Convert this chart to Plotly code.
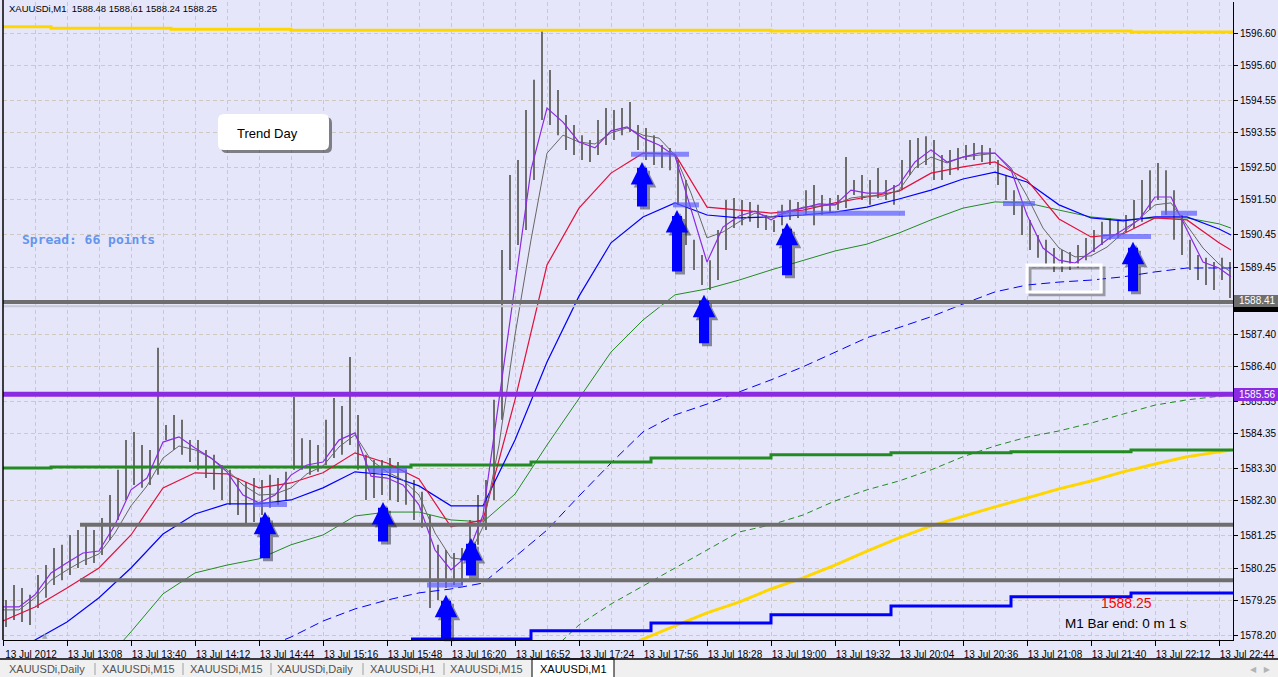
import pandas as pd
import plotly.graph_objects as go

# ---------------- data ----------------
DAY = "2012-07-13"
bar_start = "12:36"          # first M1 bar, bars grouped by 4 minutes
bar_minutes = 4
bar_high = [1579.27, 1579.73, 1579.64, 1579.43, 1580.04, 1580.34, 1580.86, 1580.96, 1581.26, 1581.41,
            1581.57, 1581.41, 1581.78, 1582.48, 1583.25, 1584.16, 1584.41, 1584.01, 1583.86, 1586.98,
            1584.62, 1584.93, 1584.78, 1584.16, 1584.16, 1583.86, 1583.71, 1583.40, 1583.25, 1583.00,
            1582.88, 1583.00, 1582.94, 1583.10, 1583.00, 1583.19, 1585.48, 1584.22, 1584.16, 1584.01,
            1584.78, 1585.45, 1585.20, 1586.70, 1584.93, 1583.71, 1583.55, 1583.55, 1583.61, 1583.49,
            1583.25, 1582.94, 1582.58, 1581.87, 1580.96, 1580.80, 1580.71, 1580.86, 1581.72, 1582.48,
            1582.94, 1585.39, 1589.97, 1592.26, 1592.72, 1594.25, 1595.17, 1596.69, 1595.47, 1594.86,
            1594.10, 1593.79, 1593.48, 1593.33, 1593.94, 1594.31, 1594.25, 1594.31, 1594.49, 1593.79,
            1593.70, 1593.48, 1593.18, 1593.09, 1592.72, 1592.11, 1590.28, 1589.82, 1589.66, 1590.58,
            1591.50, 1591.56, 1591.50, 1591.44, 1591.35, 1591.04, 1590.89, 1591.35, 1591.50, 1591.44,
            1591.80, 1591.96, 1591.65, 1591.56, 1591.65, 1592.81, 1592.11, 1592.26, 1592.11, 1592.48,
            1592.11, 1591.96, 1592.72, 1593.33, 1593.39, 1593.45, 1593.33, 1592.87, 1593.03, 1593.09,
            1593.18, 1593.24, 1593.18, 1593.09, 1592.72, 1592.26, 1591.80, 1591.35, 1590.89, 1590.43,
            1590.28, 1590.03, 1589.97, 1589.91, 1590.12, 1590.34, 1590.58, 1590.83, 1590.95, 1590.89,
            1591.04, 1591.50, 1592.11, 1592.41, 1592.63, 1592.41, 1591.80, 1591.04, 1590.28, 1589.82,
            1589.73, 1589.60, 1589.73, 1589.60]
bar_low = [1578.45, 1578.66, 1578.60, 1578.51, 1579.03, 1579.34, 1579.73, 1579.88, 1580.04, 1580.25,
           1580.34, 1580.40, 1580.65, 1581.11, 1581.72, 1582.33, 1582.79, 1582.70, 1582.79, 1583.10,
           1584.16, 1583.86, 1583.71, 1583.49, 1583.25, 1583.00, 1582.64, 1582.33, 1582.18, 1581.87,
           1581.57, 1581.66, 1581.87, 1582.09, 1582.18, 1582.33, 1583.25, 1583.25, 1583.10, 1583.19,
           1583.40, 1583.61, 1583.71, 1584.01, 1583.25, 1582.33, 1582.39, 1582.48, 1582.33, 1582.27,
           1582.18, 1581.72, 1581.48, 1579.03, 1579.27, 1579.64, 1579.73, 1579.73, 1580.19, 1580.96,
           1581.41, 1582.33, 1584.78, 1589.36, 1590.12, 1590.58, 1592.11, 1593.94, 1593.79, 1593.48,
           1593.03, 1592.87, 1592.72, 1592.66, 1592.87, 1593.18, 1593.33, 1593.48, 1593.58, 1593.03,
           1592.72, 1592.57, 1592.48, 1592.41, 1591.35, 1590.12, 1589.36, 1588.90, 1588.75, 1589.05,
           1589.97, 1590.64, 1590.73, 1590.83, 1590.64, 1590.58, 1590.52, 1590.73, 1590.89, 1590.95,
           1591.04, 1590.73, 1591.04, 1591.13, 1591.19, 1591.25, 1591.65, 1591.50, 1591.35, 1591.56,
           1591.50, 1591.35, 1591.80, 1592.26, 1592.48, 1592.57, 1592.11, 1592.11, 1592.26, 1592.41,
           1592.72, 1592.72, 1592.66, 1592.57, 1591.96, 1591.50, 1591.04, 1590.43, 1589.97, 1589.73,
           1589.51, 1589.30, 1589.30, 1589.36, 1589.42, 1589.66, 1589.91, 1590.12, 1590.28, 1590.34,
           1590.52, 1590.64, 1590.83, 1591.19, 1591.50, 1591.04, 1590.28, 1589.82, 1589.36, 1589.05,
           1588.90, 1588.75, 1589.05, 1588.50]

last_time = "22:50"
# fast averages, sampled every 8 minutes from 12:36 (last point at 22:50)
ma_purple = [1579.06, 1579.06, 1579.43, 1580.10, 1580.41, 1580.71, 1580.77, 1581.57, 1582.64, 1583.00,
             1584.10, 1584.26, 1583.92, 1583.61, 1583.19, 1582.48, 1582.24, 1582.48, 1583.09, 1583.40,
             1583.49, 1584.16, 1584.38, 1583.06, 1583.00, 1582.79, 1582.18, 1580.80, 1580.19, 1580.62,
             1581.87, 1585.39, 1589.05, 1592.42, 1594.31, 1593.88, 1593.27, 1593.09, 1593.61, 1593.73,
             1593.39, 1593.18, 1592.84, 1591.19, 1589.60, 1590.67, 1591.01, 1591.16, 1590.89, 1591.16,
             1591.25, 1591.38, 1591.35, 1591.80, 1591.71, 1591.71, 1591.96, 1592.66, 1593.03, 1592.66,
             1592.81, 1592.93, 1592.93, 1592.42, 1591.04, 1590.03, 1589.66, 1589.57, 1589.91, 1590.28,
             1590.58, 1590.89, 1591.59, 1591.59, 1590.58, 1589.60, 1589.42, 1589.15]
ma_grey = [1578.97, 1578.97, 1579.34, 1579.88, 1580.19, 1580.47, 1580.68, 1581.32, 1582.15, 1582.76,
           1583.61, 1583.98, 1583.86, 1583.61, 1583.25, 1582.79, 1582.48, 1582.51, 1582.70, 1583.13,
           1583.37, 1583.95, 1584.32, 1583.55, 1583.19, 1582.94, 1582.48, 1581.32, 1580.56, 1580.50,
           1581.51, 1584.01, 1587.37, 1590.28, 1592.93, 1593.48, 1593.27, 1593.21, 1593.55, 1593.70,
           1593.48, 1593.39, 1592.87, 1591.71, 1590.34, 1590.52, 1590.83, 1591.10, 1590.98, 1591.10,
           1591.28, 1591.32, 1591.35, 1591.56, 1591.62, 1591.62, 1591.80, 1592.48, 1592.81, 1592.63,
           1592.81, 1592.87, 1592.93, 1592.48, 1591.62, 1590.64, 1590.03, 1589.76, 1589.79, 1590.06,
           1590.49, 1590.89, 1591.35, 1591.41, 1590.73, 1590.03, 1589.54, 1589.30]
# slower averages, sampled every 16 minutes from 12:36 (last point at 22:50)
ma_red = [1578.63, 1579.06, 1579.64, 1580.25, 1581.26, 1582.70, 1583.16, 1583.13, 1582.70, 1582.85,
          1583.16, 1583.77, 1583.46, 1582.97, 1581.51, 1581.72, 1585.39, 1589.51, 1591.25, 1592.32,
          1592.93, 1592.90, 1591.28, 1591.19, 1591.10, 1591.19, 1591.41, 1591.59, 1591.77, 1592.32,
          1592.51, 1592.66, 1592.11, 1590.92, 1590.37, 1590.46, 1590.95, 1590.89, 1590.19, 1589.97]
ma_blue = [1577.59, 1578.05, 1578.60, 1579.34, 1580.25, 1581.29, 1581.90, 1582.21, 1582.21, 1582.33,
           1582.70, 1583.19, 1583.10, 1582.76, 1582.15, 1582.15, 1584.16, 1586.55, 1588.56, 1590.19,
           1590.98, 1591.41, 1591.04, 1590.95, 1590.98, 1591.04, 1591.13, 1591.28, 1591.53, 1591.80,
           1592.14, 1592.35, 1592.05, 1591.35, 1590.95, 1590.86, 1590.98, 1590.98, 1590.61, 1590.43]
ma_green = [None, None, None, 1577.20, 1578.30, 1579.46, 1580.10, 1580.34, 1580.53, 1580.96,
            1581.26, 1581.84, 1581.96, 1581.96, 1581.72, 1581.66, 1582.51, 1584.01, 1585.45, 1586.85,
            1587.83, 1588.60, 1588.78, 1589.05, 1589.36, 1589.66, 1589.94, 1590.15, 1590.49, 1590.89,
            1591.25, 1591.44, 1591.41, 1591.19, 1590.98, 1590.89, 1590.95, 1590.95, 1590.77, 1590.64]
ma_blue_dash = [None, None, None, None, None, None, None, None, 1577.75, 1578.14,
                1578.63, 1579.00, 1579.27, 1579.49, 1579.61, 1579.79, 1580.59, 1581.41, 1582.45, 1583.46,
                1584.41, 1584.93, 1585.26, 1585.62, 1586.00, 1586.40, 1586.85, 1587.29, 1587.60, 1587.93,
                1588.32, 1588.69, 1588.90, 1588.99, 1589.05, 1589.15, 1589.30, 1589.42, 1589.42, 1589.42]
ma_green_dash = [None] * 17 + [1577.59, 1578.51, 1579.15, 1579.71, 1580.25, 1580.80, 1581.35, 1581.57,
                               1581.87, 1582.30, 1582.64, 1582.91, 1583.25, 1583.65, 1583.98, 1584.25,
                               1584.44, 1584.68, 1584.96, 1585.23, 1585.39, 1585.51, 1585.54]
ma_yellow = [None] * 19 + [1577.59, 1578.08, 1578.48, 1578.88, 1579.21, 1579.61, 1579.95, 1580.34,
                           1580.77, 1581.17, 1581.54, 1581.84, 1582.12, 1582.39, 1582.67, 1582.91,
                           1583.19, 1583.43, 1583.65, 1583.80, 1583.86]

# hourly step lines
yellow_top_times = ["12:36", "13:00", "14:00", "15:00", "19:00", "22:00", "22:51"]
yellow_top_vals = [1596.79, 1596.75, 1596.72, 1596.69, 1596.66, 1596.63, 1596.63]
green_step_times = ["12:36", "13:00", "16:00", "17:00", "18:00", "19:00", "20:00", "21:00", "22:00", "22:51"]
green_step_vals = [1583.31, 1583.34, 1583.40, 1583.49, 1583.61, 1583.71, 1583.77, 1583.80, 1583.86, 1583.86]
blue_step_times = ["16:00", "17:00", "18:00", "19:00", "20:00", "21:00", "22:00", "22:51"]
blue_step_vals = [1578.08, 1578.33, 1578.57, 1578.82, 1579.09, 1579.37, 1579.49, 1579.49]

# horizontal levels
level_grey_full = 1588.38
level_bid = 1588.25
level_purple = 1585.56
levels_grey_part = [1581.57, 1579.88]
levels_grey_part_start = "13:14:30"

# highlighted zones (price, from, to)
zone_price = [1582.19, 1583.23, 1579.73, 1592.90, 1591.35, 1591.09, 1591.39, 1590.38, 1591.09]
zone_from = ["14:41", "15:39", "16:08", "17:50", "18:11", "19:03", "20:56", "21:45", "22:15"]
zone_to = ["14:58", "15:58", "16:26", "18:19", "18:24", "20:07", "21:12", "22:10", "22:33"]

# up arrows (tip time, tip price)
arrow_time = ["14:47", "15:46", "16:17:30", "16:30", "17:55:30", "18:13", "18:26:30", "19:08", "22:01"]
arrow_price = [1581.97, 1582.27, 1579.43, 1581.17, 1592.66, 1591.19, 1588.60, 1590.80, 1590.22]
arrow_len_px = [48, 41, 45, 39, 46, 63, 50, 54, 51]

# white frame (time range, price range)
frame_times = ["21:08", "21:45"]
frame_prices = [1588.69, 1589.51]

x_tick_times = ["12:36", "13:08", "13:40", "14:12", "14:44", "15:16", "15:48", "16:20", "16:52", "17:24",
                "17:56", "18:28", "19:00", "19:32", "20:04", "20:36", "21:08", "21:40", "22:12", "22:44"]
x_tick_labels = ["13 Jul 2012"] + ["13 Jul " + t for t in x_tick_times[1:]]
x_grid_times = ["12:52", "13:24", "13:56", "14:28", "15:00", "15:32", "16:04", "16:36", "17:08", "17:40",
                "18:12", "18:44", "19:16", "19:48", "20:20", "20:52", "21:24", "21:56", "22:28"]
y_tick_labels = ["1578.20", "1579.25", "1580.25", "1581.25", "1582.30", "1583.30", "1584.35", "1585.35",
                 "1586.40", "1587.40", "1588.40", "1589.45", "1590.45", "1591.50", "1592.50", "1593.55",
                 "1594.55", "1595.60", "1596.60"]
tabs = ["XAUUSDi,Daily", "XAUUSDi,M15", "XAUUSDi,M15", "XAUUSDi,Daily", "XAUUSDi,H1", "XAUUSDi,M15", "XAUUSDi,M1"]
quote_text = "XAUUSDi,M1  1588.48 1588.61 1588.24 1588.25"

# ---------------- helpers ----------------
def T(s):
    return pd.Timestamp(f"{DAY} {s}")

def iso(t):
    return t.strftime("%Y-%m-%d %H:%M:%S")

t0 = T(bar_start)

def grid_times(n, step):
    return [iso(t0 + pd.Timedelta(minutes=step * k)) for k in range(n - 1)] + [iso(T(last_time))]

W, H = 1278, 677
L, R, TOP, BOT = 3, 1233, 2, 640

def px(x):
    return (x - L) / (R - L)

def py(y):
    return (BOT - y) / (BOT - TOP)

def rrect(x0, y0, x1, y1, r):
    X0, X1, Y0, Y1 = px(x0), px(x1), py(y0), py(y1)
    rx, ry = r / (R - L), r / (BOT - TOP)
    return (f"M{X0+rx},{Y0} L{X1-rx},{Y0} Q{X1},{Y0} {X1},{Y0-ry} L{X1},{Y1+ry} "
            f"Q{X1},{Y1} {X1-rx},{Y1} L{X0+rx},{Y1} Q{X0},{Y1} {X0},{Y1+ry} "
            f"L{X0},{Y0-ry} Q{X0},{Y0} {X0+rx},{Y0} Z")

FONT = "Liberation Sans"
fig = go.Figure()

# price bars
bx, by = [], []
for i, (h, l) in enumerate(zip(bar_high, bar_low)):
    t = iso(t0 + pd.Timedelta(minutes=bar_minutes * i + 1.5))
    bx += [t, t, None]
    by += [l, h, None]
fig.add_trace(go.Scatter(x=bx, y=by, mode="lines", line=dict(color="#6e6e6e", width=2),
                         hoverinfo="skip"))

t16 = grid_times(len(ma_red), 16)
t8 = grid_times(len(ma_purple), 8)

def line(x, y, color, width, dash=None, shape="linear"):
    fig.add_trace(go.Scatter(x=x, y=y, mode="lines", hoverinfo="skip", connectgaps=False,
                             line=dict(color=color, width=width, dash=dash, shape=shape)))

line(t16, ma_green_dash, "#228b22", 1, "6px,4px")
line(t16, ma_blue_dash, "#0000ff", 1, "9px,5px")
line(t16, ma_yellow, "#ffd700", 3)
line([iso(T(s)) for s in green_step_times], green_step_vals, "#228b22", 3, shape="hv")
line([iso(T(s)) for s in blue_step_times], blue_step_vals, "#0000ff", 3, shape="hv")
line([iso(T(s)) for s in yellow_top_times], yellow_top_vals, "#ffd700", 3, shape="hv")
line(t16, ma_green, "#228b22", 1)
line(t16, ma_blue, "#0000ff", 1.2)
line(t16, ma_red, "#e0103c", 1.2)
line(t8, ma_grey, "#666666", 1)
line(t8, ma_purple, "#8a2be2", 1.2)

shapes = []
# horizontal levels
shapes.append(dict(type="line", xref="paper", x0=0, x1=1, yref="y", y0=level_bid, y1=level_bid,
                   line=dict(color="#c8c8d2", width=2)))
shapes.append(dict(type="line", xref="paper", x0=0, x1=1, yref="y", y0=level_grey_full, y1=level_grey_full,
                   line=dict(color="#6e6e6e", width=4)))
for lv in levels_grey_part:
    shapes.append(dict(type="line", xref="x", x0=iso(T(levels_grey_part_start)), x1=iso(T("22:51")),
                       yref="y", y0=lv, y1=lv, line=dict(color="#6e6e6e", width=4)))
shapes.append(dict(type="line", xref="paper", x0=0, x1=1, yref="y", y0=level_purple, y1=level_purple,
                   line=dict(color="#8a2be2", width=5)))
# zones
for p, a, b in zip(zone_price, zone_from, zone_to):
    shapes.append(dict(type="line", xref="x", x0=iso(T(a)), x1=iso(T(b)), yref="y", y0=p, y1=p,
                       line=dict(color="rgba(95,95,255,0.72)", width=5)))
# white frame with shadow
shapes.append(dict(type="rect", xref="x", yref="y",
                   x0=iso(T(frame_times[0]) + pd.Timedelta(seconds=90)),
                   x1=iso(T(frame_times[1]) + pd.Timedelta(seconds=90)),
                   y0=frame_prices[0] - 0.09, y1=frame_prices[1] - 0.09,
                   line=dict(color="rgba(60,60,60,0.45)", width=3)))
shapes.append(dict(type="rect", xref="x", yref="y", x0=iso(T(frame_times[0])), x1=iso(T(frame_times[1])),
                   y0=frame_prices[0], y1=frame_prices[1], line=dict(color="white", width=3)))

# Trend Day box
shapes.append(dict(type="path", xref="paper", yref="paper", path=rrect(221, 117, 332, 153, 6),
                   fillcolor="rgba(40,40,40,0.55)", line=dict(width=0)))
shapes.append(dict(type="path", xref="paper", yref="paper", path=rrect(218, 114, 329, 150, 6),
                   fillcolor="white", line=dict(width=0)))

# price labels on the right scale
shapes.append(dict(type="rect", xref="paper", yref="paper", x0=px(1234), x1=px(1278), y0=py(312), y1=py(305),
                   fillcolor="black", line=dict(width=0)))
shapes.append(dict(type="rect", xref="paper", yref="paper", x0=px(1234), x1=px(1278), y0=py(307), y1=py(295),
                   fillcolor="#6e6e6e", line=dict(width=0)))
shapes.append(dict(type="rect", xref="paper", yref="paper", x0=px(1234), x1=px(1278), y0=py(401), y1=py(388),
                   fillcolor="#8a2be2", line=dict(width=0)))

# left border
shapes.append(dict(type="line", xref="paper", yref="paper", x0=0, x1=0, y0=0, y1=py(0),
                   line=dict(color="black", width=1.5)))

# tab bar
shapes.append(dict(type="rect", xref="paper", yref="paper", x0=px(-2), x1=px(1280), y0=py(678), y1=py(659),
                   fillcolor="#f0f0f0", line=dict(width=0)))
shapes.append(dict(type="rect", xref="paper", yref="paper", x0=px(532), x1=px(614), y0=py(678), y1=py(659),
                   fillcolor="#ffffff", line=dict(color="black", width=1)))
shapes.append(dict(type="line", xref="paper", yref="paper", x0=px(-2), x1=px(1280), y0=py(659), y1=py(659),
                   line=dict(color="black", width=1.5)))
for sx in [95, 183, 271, 363, 444]:
    shapes.append(dict(type="line", xref="paper", yref="paper", x0=px(sx), x1=px(sx), y0=py(663), y1=py(675),
                       line=dict(color="#a0a0a0", width=1)))

ann = []
# arrows (shadow first)
for t, p, ln in zip(arrow_time, arrow_price, arrow_len_px):
    for col, sh in [("rgba(20,20,40,0.45)", 3), ("#0000ff", 0)]:
        ann.append(dict(x=iso(T(t)), y=p, xref="x", yref="y", ax=0, ay=ln, text="", showarrow=True,
                        arrowhead=2, arrowsize=0.45, arrowwidth=10, arrowcolor=col, standoff=0,
                        xshift=sh, yshift=-sh))

ann.append(dict(x=px(7), y=py(8.5), xref="paper", yref="paper", xanchor="left", yanchor="middle",
                text=quote_text, showarrow=False, font=dict(family=FONT, size=9.5, color="black")))
ann.append(dict(x=px(20), y=py(239), xref="paper", yref="paper", xanchor="left", yanchor="middle",
                text="<b>Spread: 66 points</b>", showarrow=False,
                font=dict(family="DejaVu Sans Mono", size=13, color="#6495ed")))
ann.append(dict(x=px(235), y=py(133), xref="paper", yref="paper", xanchor="left", yanchor="middle",
                text="Trend Day", showarrow=False, font=dict(family=FONT, size=13, color="black")))
ann.append(dict(x=px(1099), y=py(603), xref="paper", yref="paper", xanchor="left", yanchor="middle",
                text="1588.25", showarrow=False, font=dict(family=FONT, size=14, color="#ff0000")))
ann.append(dict(x=px(1063), y=py(623), xref="paper", yref="paper", xanchor="left", yanchor="middle",
                text="M1 Bar end: 0 m 1 s", showarrow=False, font=dict(family=FONT, size=13.5, color="black")))
ann.append(dict(x=px(1237), y=py(301), xref="paper", yref="paper", xanchor="left", yanchor="middle",
                text="1588.41", showarrow=False, font=dict(family=FONT, size=10, color="white")))
ann.append(dict(x=px(1237), y=py(394.5), xref="paper", yref="paper", xanchor="left", yanchor="middle",
                text="1585.56", showarrow=False, font=dict(family=FONT, size=10, color="white")))
ann.append(dict(x=px(45), y=py(636), xref="paper", yref="paper", xanchor="center", yanchor="middle",
                text="▲", showarrow=False, font=dict(family="DejaVu Sans", size=7, color="#a8a8a8")))
tab_centers = [47, 138, 226, 315, 402, 486, 573]
for i, (name, cx) in enumerate(zip(tabs, tab_centers)):
    ann.append(dict(x=px(cx), y=py(669), xref="paper", yref="paper", xanchor="center", yanchor="middle",
                    text=name, showarrow=False,
                    font=dict(family=FONT, size=11, color="black" if i == len(tabs) - 1 else "#505050")))
ann.append(dict(x=px(1260), y=py(669), xref="paper", yref="paper", xanchor="center", yanchor="middle",
                text="◀   ▶", showarrow=False, font=dict(family="DejaVu Sans", size=8, color="#b4b4b4")))

GRID = "#cdc9c0"
fig.update_layout(
    width=W, height=H, autosize=False,
    margin=dict(l=L, r=W - R, t=TOP, b=H - BOT),
    paper_bgcolor="#e6e6fa", plot_bgcolor="#e6e6fa",
    showlegend=False, hovermode=False,
    shapes=shapes, annotations=ann,
    xaxis=dict(type="date", range=[iso(T("12:36")), iso(T("22:51"))], automargin=False,
               tickvals=[iso(T(s)) for s in x_tick_times], ticktext=x_tick_labels,
               ticks="outside", ticklen=5, tickcolor="black", ticklabelshift=28,
               tickfont=dict(family=FONT, size=10, color="black"),
               showline=True, linecolor="black", linewidth=1,
               showgrid=True, gridcolor=GRID, griddash="4px,3px", gridwidth=1, zeroline=False,
               minor=dict(tickvals=[iso(T(s)) for s in x_grid_times], showgrid=True, gridcolor=GRID,
                          griddash="4px,3px", ticks="")),
    yaxis=dict(side="right", range=[1578.05, 1597.55], automargin=False,
               tickvals=[float(s) for s in y_tick_labels], ticktext=y_tick_labels,
               ticks="outside", ticklen=4, tickcolor="black",
               tickfont=dict(family=FONT, size=10, color="black"),
               showline=True, linecolor="black", linewidth=1,
               showgrid=True, gridcolor=GRID, griddash="4px,3px", gridwidth=1, zeroline=False),
)

fig.write_html("out.html", config={"displayModeBar": False},
               post_script="document.body.style.margin='0px';document.body.style.overflow='hidden';")
